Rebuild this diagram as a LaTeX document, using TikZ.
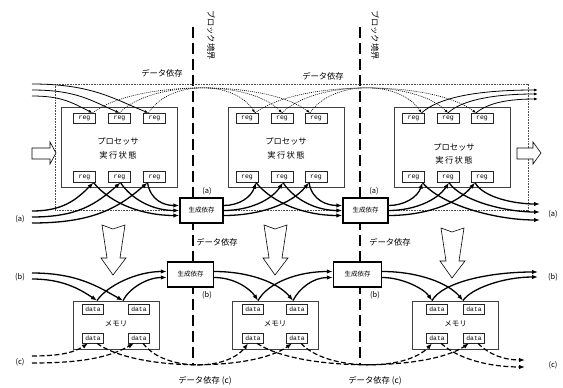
\documentclass[tikz,border=0pt]{standalone}
\usepackage{fontspec}
\setmainfont{Noto Sans CJK JP}
\newfontfamily\monof{Liberation Mono}
\usetikzlibrary{arrows.meta,calc}
\begin{document}
\begin{tikzpicture}[x=1pt,y=-1pt,
  proc/.style={draw=black!75,line width=0.8pt,minimum width=116pt,minimum height=80pt,inner sep=0pt},
  regbox/.style={draw=black!85,line width=0.7pt,fill=white,minimum width=22pt,minimum height=10.5pt,inner sep=0pt,font=\monof\fontsize{6.5}{7}\selectfont},
  databox/.style={draw=black!85,line width=0.7pt,fill=white,minimum width=21pt,minimum height=10pt,inner sep=0pt,font=\monof\fontsize{6.3}{7}\selectfont},
  membox/.style={draw=black!75,line width=0.8pt,minimum width=86pt,minimum height=48pt,inner sep=0pt},
  genbox/.style={draw,line width=1.4pt,fill=white,minimum height=25pt,inner sep=0pt,font=\fontsize{6.5}{7}\selectfont},
  lbl/.style={font=\fontsize{8.3}{10}\selectfont,inner sep=0pt},
  smalllbl/.style={font=\fontsize{7.5}{9}\selectfont,inner sep=0pt},
  thinarr/.style={line width=0.8pt,-{Latex[length=4pt,width=3pt]}},
  dotarc/.style={line width=0.6pt,dash pattern=on 1pt off 1pt,-{Latex[length=3.5pt,width=2.6pt]}},
  thickarr/.style={line width=1.3pt,-{Latex[length=6pt,width=4.5pt]}},
  dsharr/.style={line width=1.2pt,dash pattern=on 5pt off 2.5pt,-{Latex[length=6pt,width=4.5pt]}},
  hollow/.style={draw,line width=0.6pt,fill=white},
  boundary/.style={line width=1.6pt,dash pattern=on 11pt off 5pt},
  downarr/.pic={\draw[hollow] (-11,0) -- (0,4) -- (12,0) -- (7,33) -- (13,33) -- (0,50) -- (-12,33) -- (-6,33) -- cycle;}
]
\useasboundingbox (0,0) rectangle (563,388);

% block boundaries
\coordinate (bd1t) at (193,27); \coordinate (bd1b) at (193,365);
\coordinate (bd2t) at (360,27); \coordinate (bd2b) at (360,365);
\draw[boundary] (bd1t) -- (bd1b);
\draw[boundary] (bd2t) -- (bd2b);
\node[lbl,rotate=-90] (bl1) at (211,35) {ブロック境界};
\node[lbl,rotate=-90] (bl2) at (375,35) {ブロック境界};

% outer dotted frame
\draw[line width=0.6pt,dash pattern=on 0.8pt off 0.8pt,black!70] (55,84) rectangle (528,210);

% labels
\node[lbl] (dd1) at (162,73) {データ依存};
\node[lbl] (dd2) at (323,76) {データ依存};
\node[lbl] (dd3) at (217,242) {データ依存};
\node[lbl] (dd4) at (390,242) {データ依存};
\node[lbl] (dd5) at (205,381) {データ依存 (c)};
\node[lbl] (dd6) at (375,381) {データ依存 (c)};
\node[smalllbl] (la1) at (207,191) {(a)};
\node[smalllbl] (la2) at (374,191) {(a)};
\node[smalllbl] (lb1) at (207,295) {(b)};
\node[smalllbl] (lb2) at (375,295) {(b)};
\node[smalllbl] (lal) at (20,219) {(a)};
\node[smalllbl] (lbl) at (20,277) {(b)};
\node[smalllbl] (lcl) at (20,362) {(c)};
\node[smalllbl] (lar) at (553,214) {(a)};
\node[smalllbl] (lbr) at (553,277) {(b)};
\node[smalllbl] (lcr) at (553,365) {(c)};

% processors
\node[proc] (P1) at (119.5,147) {};
\node[proc] (P2) at (286.5,147) {};
\node[proc] (P3) at (452,147) {};
\node[lbl] (P1a) at (118,141) {プロセッサ};
\node[lbl] (P1b) at (118,155) {実\,行\,状\,態};
\node[lbl] (P2a) at (286,141) {プロセッサ};
\node[lbl] (P2b) at (286,155) {実\,行\,状\,態};
\node[lbl] (P3a) at (454,147) {プロセッサ};
\node[lbl] (P3b) at (454,160) {実\,行\,状\,態};

% hollow side arrows
\draw[hollow] (32,148) -- (50,148) -- (50,142) -- (56,153) -- (50,164) -- (50,159) -- (32,159) -- cycle;
\draw[hollow] (517,148) -- (533,148) -- (533,142) -- (541,153) -- (533,164) -- (533,159) -- (517,159) -- cycle;
% hollow down arrows
\pic at (113,225) {downarr};
\pic at (275,225) {downarr};
\pic at (452,228) {downarr};

% registers
\node[regbox] (t11) at (84.5,118.5) {reg};
\node[regbox] (t12) at (119.5,118.5) {reg};
\node[regbox] (t13) at (154.5,118.5) {reg};
\node[regbox] (t21) at (247,118.5) {reg};
\node[regbox] (t22) at (282,118.5) {reg};
\node[regbox] (t23) at (316,118.5) {reg};
\node[regbox] (t31) at (413.5,118.5) {reg};
\node[regbox] (t32) at (448,118.5) {reg};
\node[regbox] (t33) at (482,118.5) {reg};
\node[regbox] (b11) at (84.5,177) {reg};
\node[regbox] (b12) at (119.5,177) {reg};
\node[regbox] (b13) at (154.5,177) {reg};
\node[regbox] (b21) at (247,177) {reg};
\node[regbox] (b22) at (282,177) {reg};
\node[regbox] (b23) at (316,177) {reg};
\node[regbox] (b31) at (413.5,177) {reg};
\node[regbox] (b32) at (448,177) {reg};
\node[regbox] (b33) at (482,177) {reg};

\foreach \p in {1,2,3}{
  \coordinate (vt\p1) at ($(t\p1.north)+(8,0)$);
  \coordinate (vt\p2) at ($(t\p2.north)+(0,0)$);
  \coordinate (vt\p3) at ($(t\p3.north)+(-6,0)$);
  \coordinate (vb\p1) at ($(b\p1.south)+(9,0)$);
  \coordinate (vb\p2) at ($(b\p2.south)+(1,0)$);
  \coordinate (vb\p3) at ($(b\p3.south)+(-7,0)$);
}

% top data-dependence lines
\coordinate (La) at (32,84); \coordinate (Lb) at (32,90); \coordinate (Lc) at (32,96);
\draw[thinarr] (La) .. controls +(60,0) and ($(vt13)+(-35,-14)$) .. (vt13);
\draw[thinarr] (Lb) .. controls +(45,0) and ($(vt12)+(-28,-12)$) .. (vt12);
\draw[thinarr] (Lc) .. controls +(30,0) and ($(vt11)+(-20,-10)$) .. (vt11);
\draw[dotarc] (vt11) .. controls +(43,-33) and ($(vt23)+(-43,-33)$) .. (vt23);
\draw[dotarc] (vt12) .. controls +(32,-33) and ($(vt22)+(-32,-33)$) .. (vt22);
\draw[dotarc] (vt13) .. controls +(21,-33) and ($(vt21)+(-21,-33)$) .. (vt21);
\draw[dotarc] (vt21) .. controls +(44,-33) and ($(vt33)+(-44,-33)$) .. (vt33);
\draw[dotarc] (vt22) .. controls +(33,-33) and ($(vt32)+(-33,-33)$) .. (vt32);
\draw[dotarc] (vt23) .. controls +(22,-33) and ($(vt31)+(-22,-33)$) .. (vt31);
\coordinate (Ra) at (538,90); \coordinate (Rb) at (538,94); \coordinate (Rc) at (538,99);
\draw[thinarr] (vt31) .. controls +(20,-18) and ($(Ra)+(-50,0)$) .. (Ra);
\draw[thinarr] (vt32) .. controls +(15,-14) and ($(Rb)+(-40,0)$) .. (Rb);
\draw[thinarr] (vt33) .. controls +(12,-10) and ($(Rc)+(-30,0)$) .. (Rc);

% generation boxes
\node[genbox,minimum width=43pt] (G1) at (201.5,210.5) {生成依存};
\node[genbox,minimum width=45pt] (G2) at (365.5,210.5) {生成依存};
\node[genbox,minimum width=46pt] (H1) at (190.5,274.5) {生成依存};
\node[genbox,minimum width=48pt] (H2) at (357.5,274.5) {生成依存};

\foreach \g in {G1,G2}{
  \coordinate (\g i1) at ($(\g.west)+(0,-5)$);
  \coordinate (\g i2) at (\g.west);
  \coordinate (\g i3) at ($(\g.west)+(0,5)$);
  \coordinate (\g o1) at ($(\g.east)+(0,-5)$);
  \coordinate (\g o2) at (\g.east);
  \coordinate (\g o3) at ($(\g.east)+(0,5)$);
}
\foreach \g in {H1,H2}{
  \coordinate (\g i1) at ($(\g.west)+(0,-3)$);
  \coordinate (\g i2) at ($(\g.west)+(0,3)$);
  \coordinate (\g o1) at ($(\g.east)+(0,-3)$);
  \coordinate (\g o2) at ($(\g.east)+(0,3)$);
}

% generation dependence (a)
\coordinate (Aa) at (32,211); \coordinate (Ab) at (32,217); \coordinate (Ac) at (32,223);
\draw[thickarr] (Aa) .. controls +(30,0) and ($(vb11)+(-18,18)$) .. (vb11);
\draw[thickarr] (Ab) .. controls +(45,0) and ($(vb12)+(-25,22)$) .. (vb12);
\draw[thickarr] (Ac) .. controls +(60,0) and ($(vb13)+(-30,26)$) .. (vb13);
\draw[thickarr] (vb13) .. controls +(3,18) and ($(G1i1)+(-15,0)$) .. (G1i1);
\draw[thickarr] (vb12) .. controls +(12,18) and ($(G1i2)+(-25,0)$) .. (G1i2);
\draw[thickarr] (vb11) .. controls +(18,22) and ($(G1i3)+(-35,0)$) .. (G1i3);
\draw[thickarr] (G1o1) .. controls +(15,0) and ($(vb21)+(-5,15)$) .. (vb21);
\draw[thickarr] (G1o2) .. controls +(25,0) and ($(vb22)+(-12,18)$) .. (vb22);
\draw[thickarr] (G1o3) .. controls +(35,0) and ($(vb23)+(-18,22)$) .. (vb23);
\draw[thickarr] (vb23) .. controls +(3,18) and ($(G2i1)+(-15,0)$) .. (G2i1);
\draw[thickarr] (vb22) .. controls +(12,18) and ($(G2i2)+(-25,0)$) .. (G2i2);
\draw[thickarr] (vb21) .. controls +(18,22) and ($(G2i3)+(-35,0)$) .. (G2i3);
\draw[thickarr] (G2o1) .. controls +(15,0) and ($(vb31)+(-5,15)$) .. (vb31);
\draw[thickarr] (G2o2) .. controls +(25,0) and ($(vb32)+(-12,18)$) .. (vb32);
\draw[thickarr] (G2o3) .. controls +(35,0) and ($(vb33)+(-18,22)$) .. (vb33);
\coordinate (RAa) at (540,204); \coordinate (RAb) at (540,212); \coordinate (RAc) at (540,220);
\draw[thickarr] (vb33) .. controls +(8,15) and ($(RAa)+(-25,0)$) .. (RAa);
\draw[thickarr] (vb32) .. controls +(12,18) and ($(RAb)+(-35,0)$) .. (RAb);
\draw[thickarr] (vb31) .. controls +(18,22) and ($(RAc)+(-45,0)$) .. (RAc);

% memories
\node[membox] (M1) at (116,325) {};
\node[membox] (M2) at (275,325) {};
\node[membox] (M3) at (455.5,325) {};
\node[font=\fontsize{7.5}{9}\selectfont,inner sep=0pt] (M1t) at (116,324) {メモリ};
\node[font=\fontsize{7.5}{9}\selectfont,inner sep=0pt] (M2t) at (275,324) {メモリ};
\node[font=\fontsize{7.5}{9}\selectfont,inner sep=0pt] (M3t) at (455.5,324) {メモリ};
\node[databox] (m1a) at (93,309) {data};
\node[databox] (m1b) at (139,309) {data};
\node[databox] (m1c) at (93,338) {data};
\node[databox] (m1d) at (139,338) {data};
\node[databox] (m2a) at (253,309) {data};
\node[databox] (m2b) at (297,309) {data};
\node[databox] (m2c) at (253,338) {data};
\node[databox] (m2d) at (297,338) {data};
\node[databox] (m3a) at (437,309) {data};
\node[databox] (m3b) at (474,309) {data};
\node[databox] (m3c) at (437,338) {data};
\node[databox] (m3d) at (474,338) {data};

\coordinate (vm11) at ($(M1.north)+(-19,0)$); \coordinate (vm12) at ($(M1.north)+(7,0)$);
\coordinate (vm21) at ($(M2.north)+(-17,0)$); \coordinate (vm22) at ($(M2.north)+(18,0)$);
\coordinate (vm31) at ($(M3.north)+(-23.5,0)$); \coordinate (vm32) at ($(M3.north)+(7.5,0)$);

% generation dependence (b)
\coordinate (Ba) at (32,273); \coordinate (Bb) at (32,279);
\draw[thickarr] (Ba) .. controls +(45,0) and ($(vm12)+(-25,-14)$) .. (vm12);
\draw[thickarr] (Bb) .. controls +(30,0) and ($(vm11)+(-18,-12)$) .. (vm11);
\draw[thickarr] (vm11) .. controls +(10,-15) and ($(H1i1)+(-30,0)$) .. (H1i1);
\draw[thickarr] (vm12) .. controls +(6,-12) and ($(H1i2)+(-20,0)$) .. (H1i2);
\draw[thickarr] (H1o1) .. controls +(35,0) and ($(vm22)+(-15,-18)$) .. (vm22);
\draw[thickarr] (H1o2) .. controls +(20,0) and ($(vm21)+(-8,-12)$) .. (vm21);
\draw[thickarr] (vm21) .. controls +(10,-18) and ($(H2i1)+(-35,0)$) .. (H2i1);
\draw[thickarr] (vm22) .. controls +(6,-12) and ($(H2i2)+(-20,0)$) .. (H2i2);
\draw[thickarr] (H2o1) .. controls +(35,0) and ($(vm32)+(-15,-18)$) .. (vm32);
\draw[thickarr] (H2o2) .. controls +(20,0) and ($(vm31)+(-8,-12)$) .. (vm31);
\coordinate (RBa) at (538,272); \coordinate (RBb) at (538,277);
\draw[thickarr] (vm31) .. controls +(10,-18) and ($(RBa)+(-50,0)$) .. (RBa);
\draw[thickarr] (vm32) .. controls +(8,-12) and ($(RBb)+(-35,0)$) .. (RBb);

% data dependence (c)
\foreach \d in {m1c,m1d,m2c,m2d,m3c,m3d}{
  \coordinate (\d in) at ($(\d.south)+(-5,0)$);
  \coordinate (\d out) at ($(\d.south)+(4,0)$);
}
\coordinate (Ca) at (32,356); \coordinate (Cb) at (32,363);
\draw[dsharr] (Ca) .. controls +(25,0) and ($(m1cin)+(-15,10)$) .. (m1cin);
\draw[dsharr] (Cb) .. controls +(50,0) and ($(m1din)+(-25,14)$) .. (m1din);
\draw[dsharr] (m1cout) .. controls +(39,28) and ($(m2din)+(-39,28)$) .. (m2din);
\draw[dsharr] (m1dout) .. controls +(21,28) and ($(m2cin)+(-21,28)$) .. (m2cin);
\draw[dsharr] (m2cout) .. controls +(42,28) and ($(m3din)+(-42,28)$) .. (m3din);
\draw[dsharr] (m2dout) .. controls +(26,28) and ($(m3cin)+(-26,28)$) .. (m3cin);
\coordinate (RCa) at (525,360); \coordinate (RCb) at (525,367);
\draw[dsharr] (m3cout) .. controls +(20,18) and ($(RCb)+(-30,0)$) .. (RCb);
\draw[dsharr] (m3dout) .. controls +(12,12) and ($(RCa)+(-20,0)$) .. (RCa);
\end{tikzpicture}
\end{document}
